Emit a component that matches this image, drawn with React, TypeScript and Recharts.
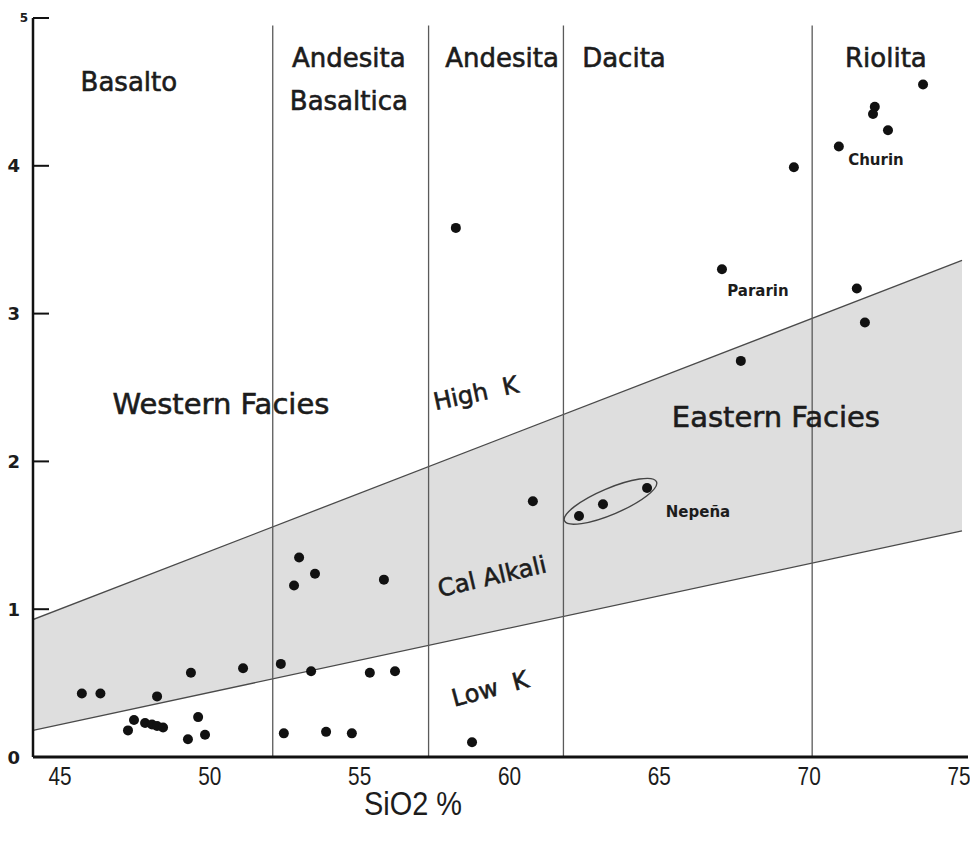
import {
  ComposedChart,
  XAxis,
  YAxis,
  Area,
  Line,
  Scatter,
  ReferenceLine,
  ReferenceDot,
  Label,
} from 'recharts'

const sio2Ticks = [45, 50, 55, 60, 65, 70, 75]
const k2oTicks = [0, 1, 2, 3, 4, 5]

// rock field limits (SiO2 %)
const fieldLimits = [52.1, 57.3, 61.8, 70.1]

// Low K / Cal Alkali / High K boundaries, at both ends of the diagram
const boundarySio2 = [44.1, 75.1]
const lowKLimit = [0.18, 1.53]
const highKLimit = [0.93, 3.36]

// samples
const sampleSio2 = [
  45.73, 46.35, 48.24, 49.37, 51.11, 52.37, 53.38, 55.34, 56.18, 47.47, 47.27,
  47.84, 48.07, 48.24, 48.44, 49.61, 49.27, 49.84, 52.47, 53.88, 54.74, 52.98,
  52.81, 53.51, 55.81, 60.78, 62.32, 63.12, 64.59, 58.75, 58.21, 73.8, 72.19,
  72.13, 72.63, 70.99, 69.49, 67.09, 71.59, 71.86, 67.72,
]
const sampleK2o = [
  0.43, 0.43, 0.41, 0.57, 0.6, 0.63, 0.58, 0.57, 0.58, 0.25, 0.18, 0.23, 0.22,
  0.21, 0.2, 0.27, 0.12, 0.15, 0.16, 0.17, 0.16, 1.35, 1.16, 1.24, 1.2, 1.73,
  1.63, 1.71, 1.82, 0.1, 3.58, 4.55, 4.4, 4.35, 4.24, 4.13, 3.99, 3.3, 3.17,
  2.94, 2.68,
]

// Nepeña group outline centre
const nepenaSio2 = [63.37]
const nepenaK2o = [1.73]

const bandData = boundarySio2.map((x, i) => ({
  x,
  low: lowKLimit[i],
  high: highKLimit[i],
  band: [lowKLimit[i], highKLimit[i]],
}))
const samples = sampleSio2.map((x, i) => ({ x, y: sampleK2o[i] }))
const nepena = nepenaSio2.map((x, i) => ({ x, y: nepenaK2o[i] }))

const FONT = '"DejaVu Sans", sans-serif'
const NARROW = '"Liberation Sans", Arial, sans-serif'
const INK = '#1c1c1c'

// text annotations placed in data coordinates
const notes = [
  { x: 47.3, y: 4.57, text: 'Basalto', size: 26 },
  { x: 54.64, y: 4.73, text: 'Andesita', size: 26 },
  { x: 54.64, y: 4.44, text: 'Basaltica', size: 26 },
  { x: 59.75, y: 4.73, text: 'Andesita', size: 26 },
  { x: 63.82, y: 4.73, text: 'Dacita', size: 26 },
  { x: 72.56, y: 4.73, text: 'Riolita', size: 26 },
  { x: 50.37, y: 2.39, text: 'Western Facies', size: 29 },
  { x: 68.89, y: 2.3, text: 'Eastern Facies', size: 29 },
  { x: 58.88, y: 2.46, text: 'High  K', size: 24, angle: -12 },
  { x: 59.42, y: 1.22, text: 'Cal Alkali', size: 24, angle: -13 },
  { x: 59.35, y: 0.46, text: 'Low  K', size: 24, angle: -15 },
  { x: 72.23, y: 4.04, text: 'Churin', size: 15, bold: true },
  { x: 68.29, y: 3.15, text: 'Pararin', size: 15, bold: true },
  { x: 66.29, y: 1.66, text: 'Nepeña', size: 15, bold: true },
]

function YTick(props: any) {
  const { x, y, payload } = props
  const top = payload.value === 5
  return (
    <g>
      <line x1={x} x2={x + 16} y1={y} y2={y} stroke="#111" strokeWidth={2} />
      <text
        x={top ? x - 5 : x - 13}
        y={y}
        textAnchor="end"
        dominantBaseline="central"
        fontFamily={FONT}
        fontWeight="bold"
        fontSize={top ? 12 : 18}
        fill={INK}
      >
        {payload.value}
      </text>
    </g>
  )
}

function XTick(props: any) {
  const { x, y, payload } = props
  return (
    <text
      transform={`translate(${x} ${y + 28}) scale(0.8 1)`}
      textAnchor="middle"
      fontFamily={NARROW}
      fontSize={26}
      fill={INK}
    >
      {payload.value}
    </text>
  )
}

export default function App() {
  return (
    <div style={{ position: 'absolute', left: 0, top: 0, background: '#fff' }}>
      <ComposedChart width={970} height={841} margin={{ top: 18, right: 2, bottom: 0, left: 0 }}>
        <XAxis
          type="number"
          dataKey="x"
          domain={[44.1, 75.3]}
          allowDataOverflow
          ticks={sio2Ticks}
          tickLine={false}
          tickSize={0}
          tickMargin={0}
          tick={<XTick />}
          height={84}
          axisLine={{ stroke: '#111', strokeWidth: 3 }}
        >
          <Label
            content={(p: any) => (
              <text
                transform={`translate(${p.viewBox.x + 380} ${p.viewBox.y + 58}) scale(0.85 1)`}
                textAnchor="middle"
                fontFamily={NARROW}
                fontSize={34}
                fill={INK}
              >
                SiO2 %
              </text>
            )}
          />
        </XAxis>
        <YAxis
          type="number"
          dataKey="y"
          domain={[0, 5]}
          allowDataOverflow
          ticks={k2oTicks}
          width={33}
          tickLine={false}
          tickSize={0}
          tickMargin={0}
          tick={<YTick />}
          axisLine={{ stroke: '#111', strokeWidth: 2.5 }}
        />
        <Area
          data={bandData}
          dataKey="band"
          type="linear"
          fill="#dedede"
          fillOpacity={1}
          stroke="none"
          isAnimationActive={false}
        />
        <Line data={bandData} dataKey="low" type="linear" stroke="#4a4a4a" strokeWidth={1.3} dot={false} isAnimationActive={false} />
        <Line data={bandData} dataKey="high" type="linear" stroke="#4a4a4a" strokeWidth={1.3} dot={false} isAnimationActive={false} />
        {fieldLimits.map((v) => (
          <ReferenceLine
            key={v}
            segment={[
              { x: v, y: 0 },
              { x: v, y: 4.95 },
            ]}
            stroke="#5a5a5a"
            strokeWidth={1.3}
          />
        ))}
        <Scatter
          data={nepena}
          isAnimationActive={false}
          shape={(p: any) => (
            <ellipse
              cx={p.cx}
              cy={p.cy}
              rx={50}
              ry={13}
              fill="none"
              stroke="#444"
              strokeWidth={1.4}
              transform={`rotate(-23 ${p.cx} ${p.cy})`}
            />
          )}
        />
        <Scatter
          data={samples}
          isAnimationActive={false}
          shape={(p: any) => <circle cx={p.cx} cy={p.cy} r={5} fill="#111" />}
        />
        {notes.map((n, i) => (
          <ReferenceDot
            key={i}
            x={n.x}
            y={n.y}
            r={0}
            shape={(p: any) => (
              <text
                x={p.cx}
                y={p.cy}
                textAnchor="middle"
                dominantBaseline="central"
                fontFamily={FONT}
                fontSize={n.size}
                fontWeight={n.bold ? 'bold' : 'normal'}
                fill={INK}
                stroke={n.bold ? 'none' : INK}
                strokeWidth={0.6}
                transform={n.angle ? `rotate(${n.angle} ${p.cx} ${p.cy})` : undefined}
                style={{ whiteSpace: 'pre' }}
              >
                {n.text}
              </text>
            )}
          />
        ))}
      </ComposedChart>
    </div>
  )
}
